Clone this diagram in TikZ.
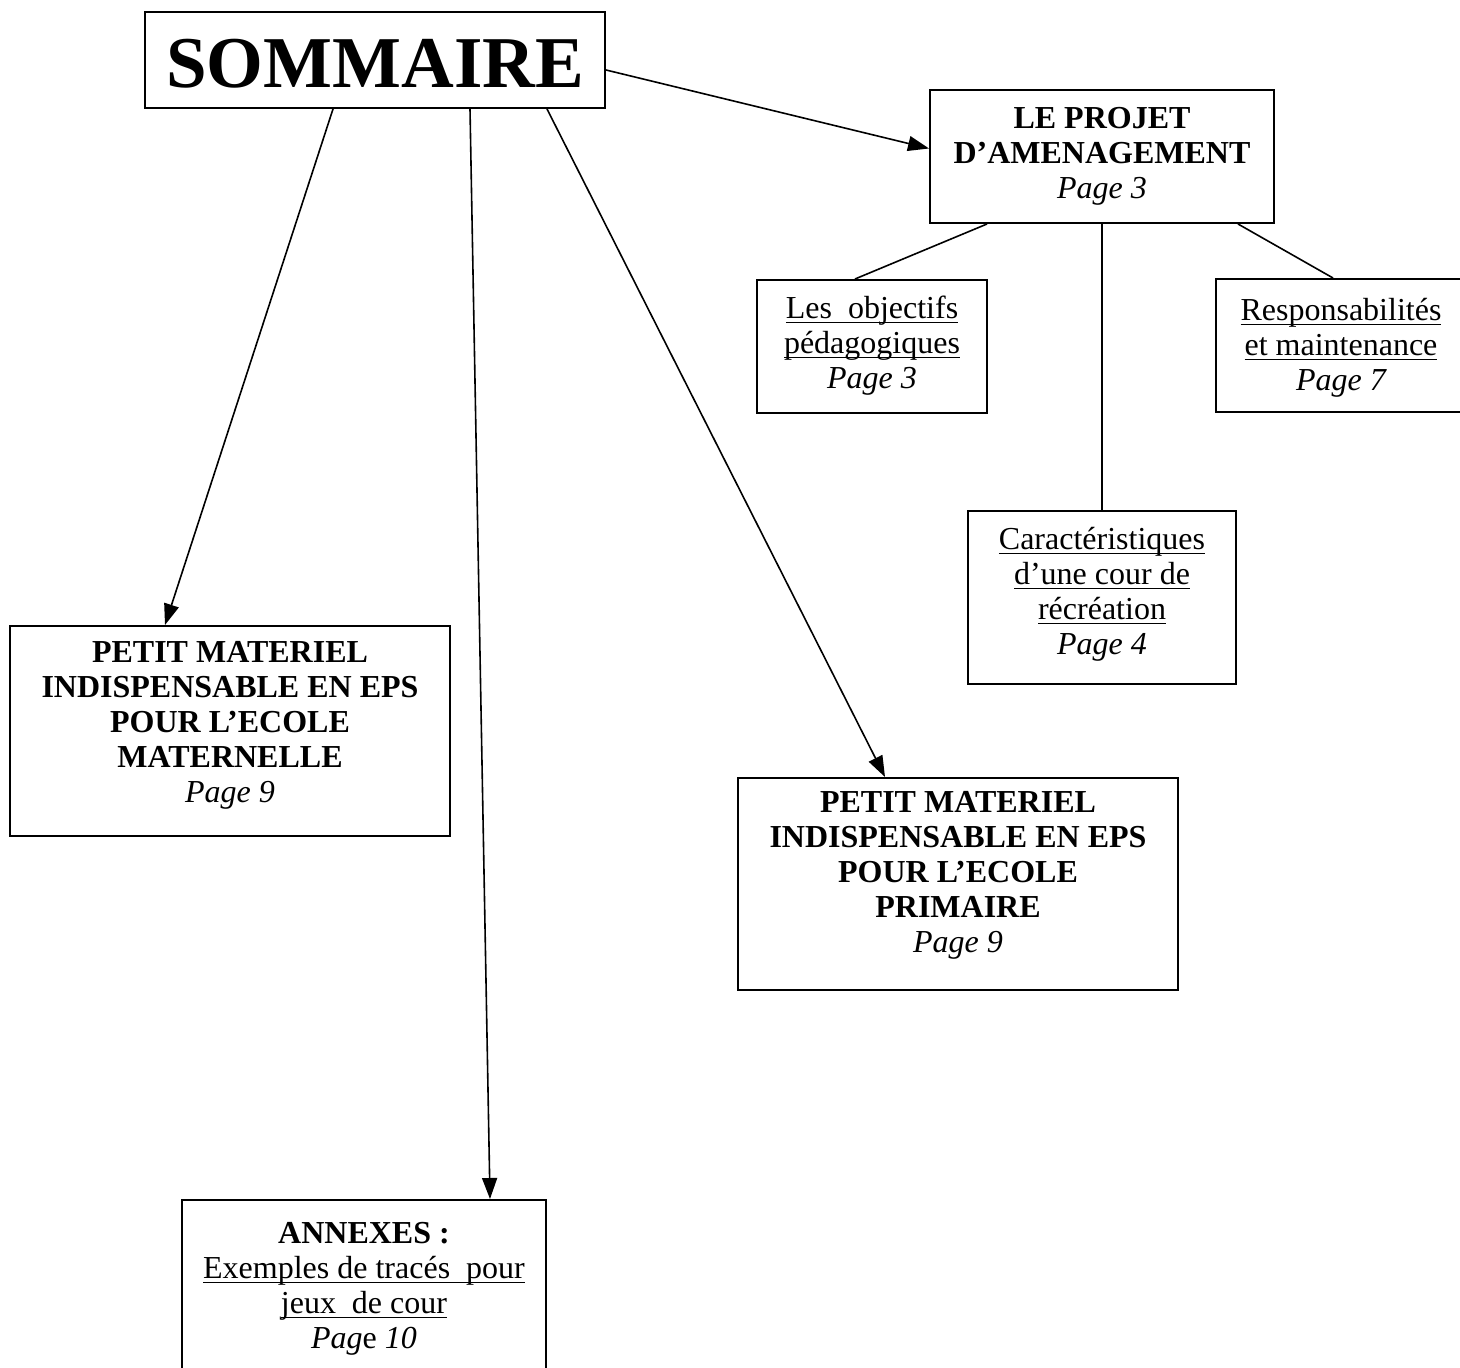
\documentclass[tikz,border=0pt]{standalone}
\usepackage{fontspec}
\setmainfont{Liberation Serif}
\usepackage{tikz}
\usetikzlibrary{arrows.meta,positioning}
\newcommand{\myul}[1]{\setbox0\hbox{#1}\rlap{\rule[-2.2pt]{\wd0}{0.6pt}}\box0}

\begin{document}
\begin{tikzpicture}[
  x=0.5pt, y=-0.5pt,
  mybox/.style={
    draw,
    line width=1pt,
    inner sep=0pt
  },
  mytext/.style={
    align=center,
    inner sep=0pt,
    font=\fontsize{16}{17.5}\selectfont
  },
  mytitle/.style={
    mytext,
    font=\fontsize{16}{17.5}\selectfont\bfseries
  },
  myarrow/.style={
    line width=0.8pt,
    -{Triangle[length=10.5pt,width=7.5pt]}
  },
  myline/.style={
    line width=0.8pt
  }
]
\useasboundingbox (0,0) rectangle (1460,1368);

\node[mybox, minimum width=230pt, minimum height=48pt, text height=28pt, text depth=0pt,
  font=\fontsize{36.5}{40}\selectfont\bfseries] (sommaire) at (375,60) {SOMMAIRE};

\node[mybox, minimum width=172pt, minimum height=66.5pt] (projet) at (1102,156.5) {};
\node[mytitle, below=9pt of projet.north] (projettxt)
  {LE PROJET\\D’AMENAGEMENT\\{\mdseries\itshape Page 3}};

\node[mybox, minimum width=115pt, minimum height=66.5pt] (objectifs) at (872,346.5) {};
\node[mytext, below=8.5pt of objectifs.north] (objectifstxt)
  {\myul{Les~~objectifs}\\\myul{pédagogiques}\\{\itshape Page 3}};

\node[mybox, minimum width=125pt, minimum height=66.5pt] (resp) at (1341,345.5) {};
\node[mytext, below=10pt of resp.north] (resptxt)
  {\myul{Responsabilités}\\\myul{et maintenance}\\{\itshape Page 7}};

\node[mybox, minimum width=134pt, minimum height=86.5pt] (caract) at (1102,597.5) {};
\node[mytext, below=8.5pt of caract.north] (caracttxt)
  {\myul{Caractéristiques}\\\myul{d’une cour de}\\\myul{récréation}\\{\itshape Page 4}};

\node[mybox, minimum width=220pt, minimum height=105pt] (mat) at (230,731) {};
\node[mytitle, below=8pt of mat.north] (mattxt)
  {PETIT MATERIEL\\INDISPENSABLE EN EPS\\POUR L’ECOLE\\MATERNELLE\\{\mdseries\itshape Page 9}};

\node[mybox, minimum width=220pt, minimum height=106pt] (primaire) at (958,884) {};
\node[mytitle, below=7pt of primaire.north] (primairetxt)
  {PETIT MATERIEL\\INDISPENSABLE EN EPS\\POUR L’ECOLE\\PRIMAIRE\\{\mdseries\itshape Page 9}};

\node[mybox, minimum width=182pt, minimum height=95pt] (annexes) at (364,1295) {};
\node[mytext, below=11.5pt of annexes.north] (annexestxt)
  {\textbf{ANNEXES :}\\\myul{Exemples de tracés~~pour}\\\myul{jeux~~de cour}\\{\itshape Pag}e {\itshape 10}};

\draw[myarrow] ([yshift=-5pt]sommaire.east) -- ([yshift=4pt]projet.west);
\draw[myarrow] ([xshift=-21pt]sommaire.south) -- ([xshift=-32.5pt]mat.north);
\draw[myarrow] ([xshift=47.5pt]sommaire.south) -- ([xshift=63pt]annexes.north);
\draw[myarrow] ([xshift=86pt]sommaire.south) -- ([xshift=-36.5pt]primaire.north);
\draw[myline] ([xshift=-57.5pt]projet.south) -- ([xshift=-8.5pt]objectifs.north);
\draw[myline] (projet.south) -- (caract.north);
\draw[myline] ([xshift=68pt]projet.south) -- ([xshift=-4pt]resp.north);
\end{tikzpicture}
\end{document}
